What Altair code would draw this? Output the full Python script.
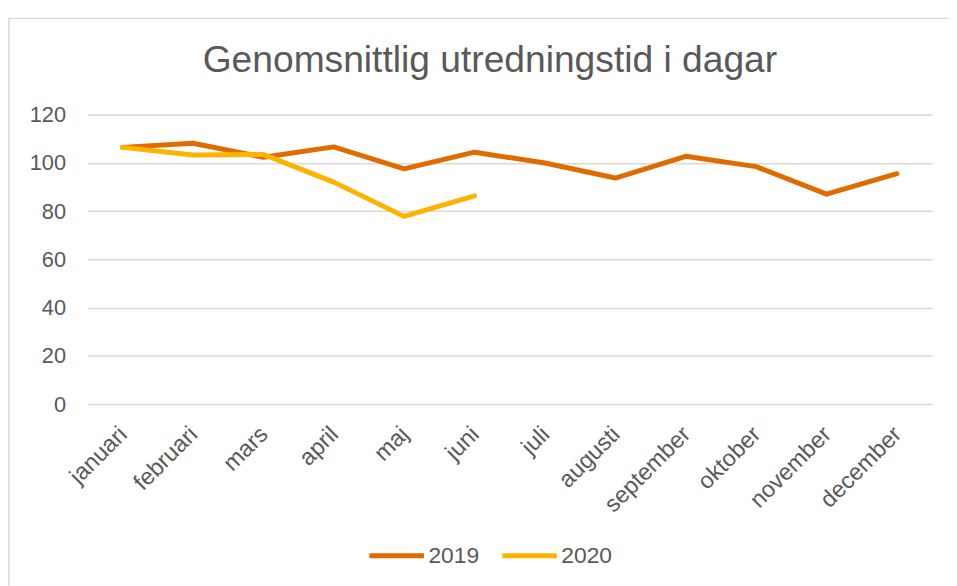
import altair as alt
import pandas as pd

months = ["januari", "februari", "mars", "april", "maj", "juni",
          "juli", "augusti", "september", "oktober", "november", "december"]
values_2019 = [106.4, 108.1, 102.3, 106.6, 97.5, 104.4, 99.9, 93.7, 102.7, 98.4, 87.0, 95.5]
values_2020 = [106.4, 103.2, 103.5, 92.0, 77.8, 86.3]
series = ["2019", "2020"]
colors = ["#E06C00", "#FFB300"]
y_ticks = [0, 20, 40, 60, 80, 100, 120]

rows = []
for m, v in zip(months, values_2019):
    rows.append({"month": m, "series": "2019", "value": v})
for m, v in zip(months, values_2020):
    rows.append({"month": m, "series": "2020", "value": v})
df = pd.DataFrame(rows)

FONT = "Liberation Sans"
GREY = "#595959"

border = alt.Chart(pd.DataFrame({"b": [0]})).mark_rect(
    fill=None, stroke="#D9D9D9", strokeWidth=1.5, clip=False
).encode(
    x=alt.value(-79), x2=alt.value(890),
    y=alt.value(-97), y2=alt.value(500),
)

lines = alt.Chart(df).mark_line(strokeWidth=5, strokeCap="round", strokeJoin="round").encode(
    x=alt.X("month:N", sort=months, scale=alt.Scale(type="point", padding=0.5),
            axis=alt.Axis(title=None, labelAngle=-45, labelFontSize=23.5, labelColor=GREY,
                          labelFont=FONT, ticks=False, domain=False, grid=False,
                          labelPadding=18, labelOffset=-8)),
    y=alt.Y("value:Q", scale=alt.Scale(domain=[0, 120], nice=False),
            axis=alt.Axis(title=None, values=y_ticks, labelFontSize=22, labelColor=GREY,
                          labelFont=FONT, ticks=False, domain=False, gridColor="#D9D9D9",
                          gridWidth=1.5, labelPadding=22)),
    color=alt.Color("series:N", scale=alt.Scale(domain=series, range=colors),
                    legend=alt.Legend(title=None, orient="none", direction="horizontal",
                                      legendX=282, legendY=415, symbolType="stroke",
                                      symbolSize=3025, symbolStrokeWidth=5,
                                      labelFontSize=23, labelColor=GREY, labelFont=FONT,
                                      columnPadding=12, labelOffset=2)),
    detail="series:N",
)

chart = alt.layer(border, lines).properties(
    width=852, height=292,
    title=alt.TitleParams(
        "Genomsnittlig utredningstid i dagar", fontSize=37.5, font=FONT, color=GREY,
        fontWeight="normal", anchor="middle", dx=-20, baseline="alphabetic", offset=-92,
    ),
    autosize=alt.AutoSizeParams(type="none"),
    padding={"left": 80, "top": 105, "right": 17, "bottom": 181},
).configure_view(stroke=None)

chart.save("out.html", embed_options={"renderer": "svg", "actions": False})
